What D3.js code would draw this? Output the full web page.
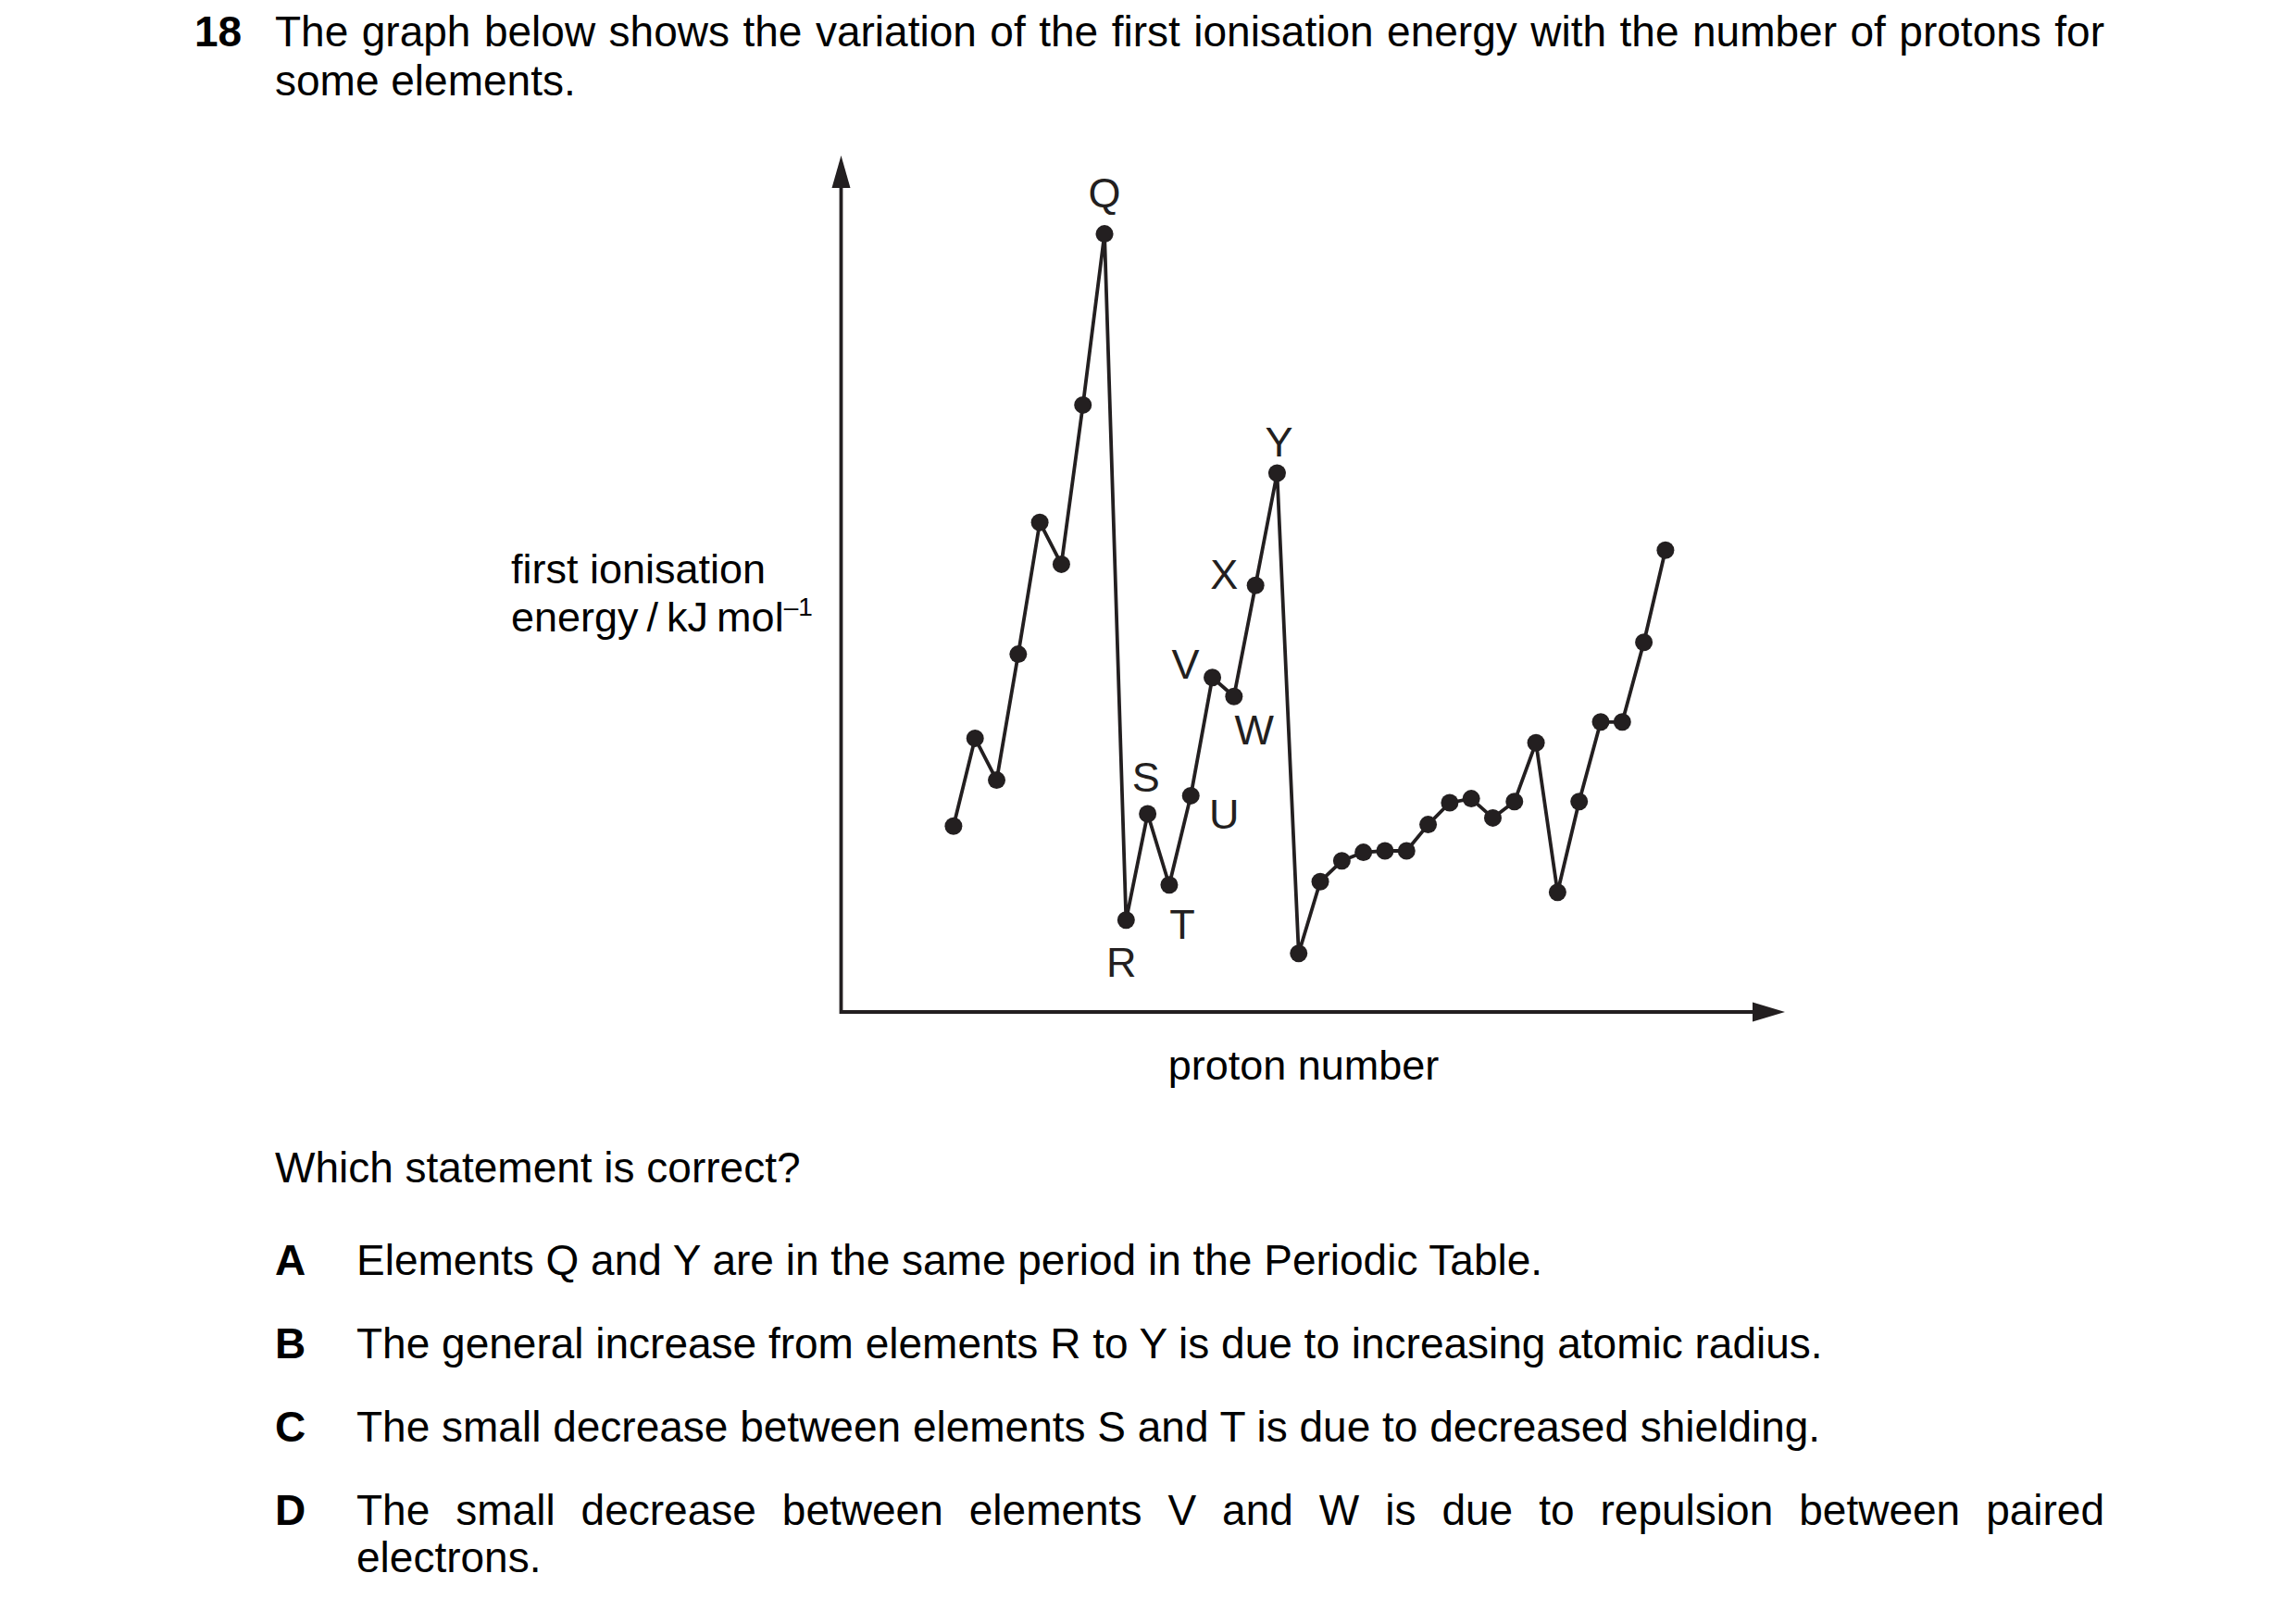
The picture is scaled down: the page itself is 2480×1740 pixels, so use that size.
<!DOCTYPE html>
<html>
<head>
<meta charset="utf-8">
<script src="https://cdn.jsdelivr.net/npm/d3@7"></script>
<style>
	html, body { margin: 0; padding: 0; background: #fff; }
	svg text { font-family: "Liberation Sans", Arial, Helvetica, sans-serif; fill: #000; }
</style>
</head>
<body>
<div id="chart"></div>
<script>
// proton numbers 3 (Li) .. 36 (Kr)
const protonNumbers = d3.range(3, 37);

// first ionisation energy as drawn (relative units)
const ionisationEnergy = [
	502, 739, 626, 966, 1322, 1209, 1639, 2101,
	248, 535, 343, 584, 903, 852, 1152, 1455,
	158, 352, 408, 431, 435, 435, 506, 565, 576, 524, 568, 727,
	323, 568, 783, 783, 998, 1247
];

// letters marked on the graph, by proton number
const markedProtons = [10, 11, 12, 13, 14, 15, 16, 17, 18];
const markedLetters = ["Q", "R", "S", "T", "U", "V", "W", "X", "Y"];

const questionLines = [
	"The graph below shows the variation of the first ionisation energy with the number of protons for",
	"some elements."
];
const optionKeys = ["A", "B", "C", "D"];
const optionTexts = [
	"Elements Q and Y are in the same period in the Periodic Table.",
	"The general increase from elements R to Y is due to increasing atomic radius.",
	"The small decrease between elements S and T is due to decreased shielding.",
	"The small decrease between elements V and W is due to repulsion between paired"
];
const optionTail = "electrons.";

const W = 2480, H = 1740;
const ink = "#231f20";
const fontSize = 46;

const svg = d3
	.select("#chart")
	.append("svg")
	.attr("width", W)
	.attr("height", H);

const textLeft = 297, textRight = 2273;

// stretch a line of text to the full width (justified)
function justify(sel, width) {
	const natural = sel.node().getComputedTextLength();
	const spaces = (sel.text().match(/ /g) || []).length;
	if (spaces > 0) sel.attr("word-spacing", (width - natural) / spaces);
}

// question header
svg.append("text")
	.attr("x", 210).attr("y", 50)
	.style("font-size", fontSize + "px")
	.style("font-weight", "bold")
	.text("18");

questionLines.forEach((line, i) => {
	const t = svg.append("text")
		.attr("x", textLeft).attr("y", 50 + i * 53)
		.style("font-size", fontSize + "px")
		.text(line);
	if (i === 0) justify(t, textRight - textLeft);
});

// plot frame
const x = d3.scaleLinear().domain([-2.21, 41.54]).range([908.5, 1928]);
const y = d3.scaleLinear().domain([0, 2312.5]).range([1093, 168]);

const x0 = x.range()[0], y0 = y.range()[0];
const xTip = x.range()[1], yTip = y.range()[1];

svg.append("path")
	.attr("d", `M${x0},${yTip + 30} V${y0} H${xTip - 30}`)
	.attr("fill", "none")
	.attr("stroke", ink)
	.attr("stroke-width", 3.8)
	.attr("stroke-linejoin", "miter");

// arrow heads
svg.append("path")
	.attr("d", `M${x0},${yTip} L${x0 + 10},${yTip + 35} L${x0 - 10},${yTip + 35} Z`)
	.attr("fill", ink);
svg.append("path")
	.attr("d", `M${xTip},${y0} L${xTip - 35},${y0 - 10.5} L${xTip - 35},${y0 + 10.5} Z`)
	.attr("fill", ink);

// axis labels
const yLab = svg.append("text")
	.attr("x", 552)
	.style("font-size", "45px");
yLab.append("tspan").attr("x", 552).attr("y", 630).text("first ionisation");
yLab.append("tspan").attr("x", 552).attr("y", 682).text("energy\u2009/\u2009kJ\u2009mol");
yLab.append("tspan")
	.attr("dy", -17)
	.style("font-size", "28px")
	.text("\u20131");

svg.append("text")
	.attr("x", 1408).attr("y", 1166)
	.attr("text-anchor", "middle")
	.style("font-size", "45px")
	.text("proton number");

// data
const data = protonNumbers.map((z, i) => ({ z: z, e: ionisationEnergy[i] }));

const line = d3.line()
	.x((d) => x(d.z))
	.y((d) => y(d.e));

svg.append("path")
	.datum(data)
	.attr("d", line)
	.attr("fill", "none")
	.attr("stroke", ink)
	.attr("stroke-width", 3.8)
	.attr("stroke-linejoin", "round");

svg.selectAll(".pt")
	.data(data)
	.enter()
	.append("circle")
	.attr("class", "pt")
	.attr("cx", (d) => x(d.z))
	.attr("cy", (d) => y(d.e))
	.attr("r", 9.5)
	.attr("fill", ink);

// letter offsets from their point (text centre, baseline)
const labelOffsets = {
	Q: [0, -29], R: [-5, 61], S: [-2, -24], T: [14, 58], U: [36, 36],
	V: [-29, 1], W: [22, 52], X: [-34, 4], Y: [2, -18]
};

markedProtons.forEach((z, i) => {
	const d = data.find((p) => p.z === z);
	const off = labelOffsets[markedLetters[i]];
	svg.append("text")
		.attr("x", x(d.z) + off[0])
		.attr("y", y(d.e) + off[1])
		.attr("text-anchor", "middle")
		.style("font-size", "45px")
		.style("fill", ink)
		.text(markedLetters[i]);
});

// statements
svg.append("text")
	.attr("x", textLeft).attr("y", 1277)
	.style("font-size", fontSize + "px")
	.text("Which statement is correct?");

optionKeys.forEach((k, i) => {
	const yy = 1377 + i * 90;
	svg.append("text")
		.attr("x", textLeft).attr("y", yy)
		.style("font-size", fontSize + "px")
		.style("font-weight", "bold")
		.text(k);
	const t = svg.append("text")
		.attr("x", 385).attr("y", yy)
		.style("font-size", fontSize + "px")
		.text(optionTexts[i]);
	if (i === optionKeys.length - 1) justify(t, textRight - 385);
});

svg.append("text")
	.attr("x", 385).attr("y", 1698)
	.style("font-size", fontSize + "px")
	.text(optionTail);
</script>
</body>
</html>
